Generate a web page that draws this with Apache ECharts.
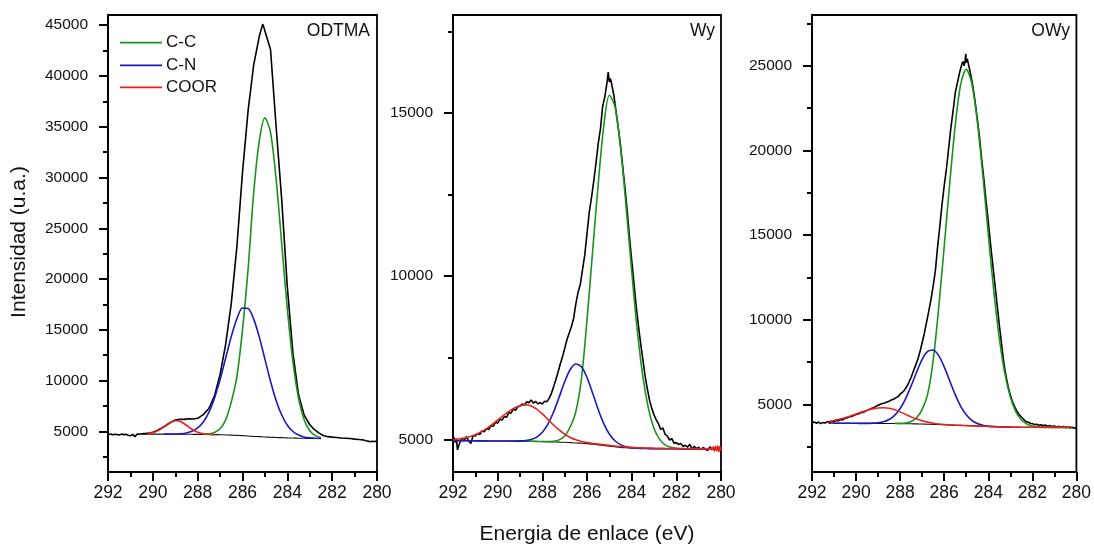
<!DOCTYPE html>
<html><head><meta charset="utf-8">
<script src="https://cdn.jsdelivr.net/npm/echarts@6/dist/echarts.min.js"></script>
<style>html,body{margin:0;padding:0;background:#fff}#c{width:1094px;height:544px}</style>
</head><body><div id="c"></div>
<script>
// ---------------- DATA ----------------
const panelTitles = ['ODTMA', 'Wy', 'OWy'];
const componentNames = ['C-C', 'C-N', 'COOR'];

const odtmaYTicks = [5000, 10000, 15000, 20000, 25000, 30000, 35000, 40000, 45000];
const odtmaYMinor = [2500, 7500, 12500, 17500, 22500, 27500, 32500, 37500, 42500];
const wyYTicks = [5000, 10000, 15000];
const wyYMinor = [7500, 12500, 17500];
const owyYTicks = [5000, 10000, 15000, 20000, 25000];
const owyYMinor = [2500, 7500, 12500, 17500, 22500, 27500];

// ---- ODTMA ----
const odtmaDataE = [292, 291.9, 291.8, 291.7, 291.6, 291.5, 291.4, 291.3, 291.2, 291.1, 291, 290.9, 290.8, 290.7, 290.6, 290.5, 290.4, 290.3, 290.2, 290.1, 290,
  289.8, 289.6, 289.4, 289.2, 289, 288.8, 288.6, 288.4, 288.2, 288,
  287.9, 287.75, 287.5, 287.25, 287, 286.75, 286.5, 286.25, 286, 285.75, 285.5, 285.25, 285.1, 285.05, 285,
  284.75, 284.5, 284.25, 284, 283.75, 283.5, 283.25, 283,
  282.8, 282.6, 282.4, 282.2, 282, 281.8, 281.6, 281.4, 281.2, 281, 280.8, 280.6,
  280.5, 280.4, 280.3, 280.2, 280.1, 280];
const odtmaData = [4690, 4740, 4660, 4720, 4700, 4640, 4730, 4680, 4710, 4620, 4560, 4700, 4480, 4740, 4720, 4760, 4780, 4800, 4830, 4870, 4920,
  5080, 5330, 5600, 5900, 6120, 6190, 6180, 6240, 6220, 6300,
  6420, 6650, 7250, 8500, 10600, 13600, 17600, 23200, 30500, 36600, 41100, 43900, 45100, 44800, 44900,
  42600, 35000, 27800, 19200, 12700, 8600, 6600, 5650,
  5200, 4850, 4600, 4480, 4430, 4400, 4350, 4330, 4300, 4240, 4200, 4150,
  4080, 4040, 3980, 4020, 4000, 4060];
const odtmaFitE = [290.5, 290.25, 290, 289.75, 289.5, 289.25, 289, 288.75, 288.5, 288.25, 288, 287.75, 287.5, 287.25, 287, 286.75, 286.5, 286.25, 286, 285.75, 285.5, 285.25, 285, 284.75, 284.5, 284.25, 284, 283.75, 283.5, 283.25, 283, 282.75, 282.5];
const odtmaBase = [4730, 4730, 4730, 4728, 4725, 4722, 4720, 4717, 4715, 4710, 4705, 4698, 4690, 4680, 4670, 4650, 4630, 4605, 4580, 4545, 4510, 4480, 4450, 4425, 4400, 4380, 4360, 4345, 4330, 4320, 4310, 4305, 4300];
const odtmaCC = [null, null, null, null, null, null, null, null, null, null, null,
  4718, 4756, 4890, 5264, 6128, 7910, 10400, 15000, 21000, 28510, 33630, 35870, 34435, 29810, 23460, 17060, 11835, 8260, 6140, 5055, 4578, 4388];
const odtmaCN = [null, null, null, null,
  4727, 4730, 4740, 4765, 4846, 5010, 5335, 5925, 6873, 8270, 10100, 12225, 14350, 16085, 17150, 17100, 16050, 14280, 12110, 9940, 8050, 6610, 5610, 4990, 4640, 4456, 4365, 4325, 4305];
const odtmaCOOR = [null, 4775, 4877, 5095, 5451, 5833, 6043, 5940, 5602, 5209, 4924, 4773, 4710, 4685,
  null, null, null, null, null, null, null, null, null, null, null, null, null, null, null, null, null, null, null];

// ---- Wy ----
const wyData = [[292,4980],[291.95,5060],[291.9,4900],[291.85,5020],[291.8,4680],[291.75,4620],[291.7,4900],[291.6,5000],[291.5,4960],[291.4,5080],[291.3,4950],[291.2,4870],[291.1,5120],[291,5100],[290.9,5180],[290.8,5150],[290.7,5260],[290.6,5230],[290.5,5330],[290.4,5300],[290.3,5420],[290.2,5400],[290.1,5520],[290,5500],[289.9,5620],[289.8,5590],[289.7,5700],[289.6,5680],[289.5,5820],[289.4,5800],[289.3,5930],[289.2,5890],[289.1,6000],[289,6020],[288.9,6080],[288.8,6050],[288.7,6150],[288.6,6120],[288.5,6210],[288.4,6110],[288.3,6160],[288.2,6090],[288.1,6120],[288,6080],[287.9,6170],[287.8,6150],[287.7,6250],[287.6,6400],[287.5,6600],[287.4,6820],[287.3,7050],[287.2,7300],[287.1,7520],[287,7780],[286.9,8050],[286.8,8250],[286.7,8450],[286.6,8700],[286.5,9150],[286.4,9500],[286.3,9750],[286.2,10200],[286.1,10650],[286,11300],[285.9,11950],[285.8,12400],[285.7,12900],[285.6,13450],[285.5,14050],[285.4,14500],[285.3,15200],[285.2,15500],[285.1,15950],[285.05,16250],[285,15950],[284.95,16050],[284.9,15900],[284.8,15550],[284.7,15050],[284.6,14550],[284.5,14000],[284.4,13350],[284.3,12700],[284.2,12000],[284.1,11200],[284,10500],[283.9,9800],[283.8,9100],[283.7,8500],[283.6,7950],[283.5,7450],[283.4,6950],[283.3,6550],[283.2,6200],[283.1,5950],[283,5750],[282.9,5600],[282.8,5480],[282.7,5300],[282.6,5350],[282.5,5150],[282.4,5100],[282.3,4980],[282.2,5020],[282.1,4880],[282,4900],[281.9,4840],[281.8,4870],[281.7,4780],[281.6,4820],[281.5,4760],[281.4,4850],[281.3,4700],[281.2,4790],[281.1,4720],[281,4760],[280.9,4680],[280.8,4750],[280.7,4700],[280.6,4660],[280.5,4770],[280.4,4700],[280.3,4720],[280.2,4680],[280.1,4740],[280,4700]];
const wyFitE = [292, 291.75, 291.5, 291.25, 291, 290.75, 290.5, 290.25, 290, 289.75, 289.5, 289.25, 289, 288.75, 288.5, 288.25, 288, 287.75, 287.5, 287.25, 287, 286.75, 286.5, 286.25, 286, 285.75, 285.5, 285.25, 285, 284.75, 284.5, 284.25, 284, 283.75, 283.5, 283.25, 283, 282.75, 282.5, 282.25, 282, 281.75, 281.5, 281.25, 281, 280.75, 280.5, 280.25, 280];
const wyBase = [4960, 4960, 4958, 4957, 4955, 4953, 4952, 4950, 4950, 4948, 4947, 4945, 4945, 4943, 4940, 4935, 4930, 4925, 4920, 4915, 4910, 4900, 4890, 4880, 4868, 4850, 4830, 4810, 4790, 4772, 4755, 4742, 4732, 4725, 4720, 4717, 4715, 4713, 4712, 4711, 4710, 4709, 4708, 4707, 4707, 4706, 4706, 4705, 4705];
const wyCC = [null, null, null, null, null, null, null, null, null, null, null, null,
  4945, 4943, 4941, 4937, 4933, 4931, 4940, 4985, 5105, 5385, 5850, 6850, 8660, 10750, 12800, 14600, 15540, 15200, 13955, 12142, 10160, 8355, 6930, 5950, 5330, 5000, 4832, 4757, 4725, 4715, 4710, 4708, 4707, 4706, 4706, 4705, 4705];
const wyCN = [4960, 4960, 4958, 4957, 4955, 4953, 4952, 4950, 4950, 4948,
  4948, 4947, 4952, 4962, 4993, 5068, 5216, 5465, 5830, 6288, 6763, 7140, 7310, 7222, 6895, 6419, 5917, 5484, 5164, 4958, 4838, 4775, 4744, 4730, 4722, 4718, 4715,
  4713, 4712, 4711, 4710, 4709, 4708, 4707, 4707, 4706, 4706, 4705, 4705];
const wyCOOR = [4987, 5010, 5038, 5085, 5143, 5230, 5330, 5455, 5589, 5728, 5856, 5962, 6030, 6060, 6025, 5925, 5780, 5612, 5441, 5287, 5159, 5056, 4985, 4935, 4900, 4875, 4855, 4835, 4815, 4797, 4780, 4765, 4755, 4745, 4738, 4733, 4728, 4724, 4721, 4718, 4716, 4714, 4712, 4711, 4710, 4709, 4708, null, null];
const wyCoorTailE = [280.45, 280.4, 280.35, 280.3, 280.25, 280.2, 280.15, 280.1, 280.05, 280];
const wyCoorTail = [4720, 4680, 4770, 4640, 4790, 4660, 4800, 4620, 4780, 4650];

// ---- OWy ----
const owyData = [[292,3900],[291.9,3960],[291.8,3880],[291.7,3950],[291.6,3860],[291.5,3930],[291.4,3890],[291.3,3980],[291.2,3920],[291.1,3990],[291,3960],[290.9,4050],[290.8,4020],[290.7,4100],[290.6,4080],[290.5,4180],[290.4,4200],[290.3,4260],[290.2,4280],[290.1,4350],[290,4400],[289.9,4430],[289.8,4500],[289.7,4520],[289.6,4580],[289.5,4640],[289.4,4700],[289.3,4760],[289.2,4800],[289.1,4880],[289,4940],[288.9,5000],[288.8,5050],[288.7,5080],[288.6,5130],[288.5,5180],[288.4,5250],[288.3,5300],[288.2,5380],[288.1,5450],[288,5600],[287.9,5700],[287.8,5850],[287.7,6050],[287.6,6300],[287.5,6600],[287.4,6950],[287.3,7300],[287.2,7650],[287.1,8100],[287,8650],[286.9,9200],[286.8,9850],[286.7,10500],[286.6,11200],[286.5,12000],[286.4,12900],[286.3,14300],[286.2,15500],[286.1,16800],[286,17900],[285.9,18900],[285.8,20100],[285.7,21300],[285.6,22300],[285.5,23400],[285.4,24000],[285.3,24600],[285.2,25100],[285.15,25250],[285.1,25000],[285.05,25300],[285.02,25700],[285,25200],[284.95,25400],[284.9,25100],[284.8,24500],[284.7,23800],[284.6,22900],[284.5,21900],[284.4,20800],[284.3,19500],[284.2,18300],[284.1,17000],[284,15800],[283.9,14500],[283.8,13300],[283.7,12100],[283.6,10900],[283.5,9700],[283.4,8600],[283.3,7500],[283.2,6700],[283.1,6050],[283,5550],[282.9,5150],[282.8,4850],[282.7,4600],[282.6,4400],[282.5,4250],[282.4,4120],[282.3,3990],[282.2,3950],[282.1,3880],[282,3860],[281.9,3800],[281.8,3820],[281.7,3760],[281.6,3790],[281.5,3740],[281.4,3770],[281.3,3700],[281.2,3740],[281.1,3690],[281,3720],[280.9,3660],[280.8,3700],[280.7,3640],[280.6,3690],[280.5,3620],[280.4,3660],[280.3,3600],[280.2,3640],[280.1,3580],[280,3620]];
const owyFitE = [291.25, 291, 290.75, 290.5, 290.25, 290, 289.75, 289.5, 289.25, 289, 288.75, 288.5, 288.25, 288, 287.75, 287.5, 287.25, 287, 286.75, 286.5, 286.25, 286, 285.75, 285.5, 285.25, 285, 284.75, 284.5, 284.25, 284, 283.75, 283.5, 283.25, 283, 282.75, 282.5, 282.25, 282, 281.75, 281.5, 281.25, 281, 280.75, 280.5, 280.25];
const owyBase = [3880, 3880, 3879, 3878, 3877, 3875, 3874, 3872, 3871, 3870, 3867, 3865, 3862, 3860, 3855, 3848, 3842, 3835, 3825, 3815, 3803, 3790, 3778, 3765, 3753, 3740, 3725, 3710, 3698, 3685, 3675, 3665, 3657, 3650, 3646, 3643, 3641, 3640, 3639, 3638, 3637, 3637, 3636, 3636, 3635];
const owyCC = [null, null, null, null, null, null, null, null, null, null, null, null,
  3870, 3875, 3900, 3980, 4200, 4700, 5600, 7600, 10700, 14320, 18048, 21465, 23912, 24790, 23975, 21750, 18578, 15045, 11695, 8910, 6837, 5430, 4571, 4086, 3840, 3721, 3668, 3648, 3640, 3637, 3636, 3636, 3635];
const owyCN = [null,
  3880, 3879, 3878, 3877, 3876, 3875, 3874, 3885, 3914, 3975, 4105, 4349, 4751, 5340, 6086, 6911, 7654, 8125, 8207, 7873, 7212, 6385, 5569, 4883, 4383, 4056, 3865, 3764, 3710, 3685, 3670, 3659, 3651,
  null, null, null, null, null, null, null, null, null, null, null];
const owyCOOR = [3975, 4045, 4117, 4206, 4311, 4425, 4540, 4646, 4729, 4784, 4798, 4762, 4675, 4552, 4405, 4257, 4131, 4029, 3946, 3885, 3840, 3810, 3788, 3770, 3755, 3743, 3730, 3717, 3705, 3693, 3682, 3672, 3663, 3656, 3651, 3647, 3644, 3642, 3640, 3639, 3638, 3637, 3637, 3636, 3636];

// ---------------- LAYOUT / STYLE ----------------
const FONT = "'Liberation Sans', Arial, Helvetica, sans-serif";
const COLORS = { data: '#000000', base: '#111111', cc: '#1a931a', cn: '#1a1ac0', coor: '#e8211b' };

function zip(E, V) {
  const out = [];
  for (let i = 0; i < E.length; i++) if (V[i] !== null && V[i] !== undefined) out.push([E[i], V[i]]);
  return out;
}

const panels = [
  { left: 108, width: 269, ymin: 1000, ymax: 46000, major: odtmaYTicks, minor: odtmaYMinor, titleX: 370,
    data: zip(odtmaDataE, odtmaData), base: zip(odtmaFitE, odtmaBase),
    cc: zip(odtmaFitE, odtmaCC), cn: zip(odtmaFitE, odtmaCN), coor: zip(odtmaFitE, odtmaCOOR) },
  { left: 453, width: 268, ymin: 4000, ymax: 18000, major: wyYTicks, minor: wyYMinor, titleX: 715,
    data: wyData, base: zip(wyFitE, wyBase),
    cc: zip(wyFitE, wyCC), cn: zip(wyFitE, wyCN), coor: zip(wyFitE, wyCOOR).concat(zip(wyCoorTailE, wyCoorTail)) },
  { left: 812, width: 267, ymin: 1000, ymax: 28000, major: owyYTicks, minor: owyYMinor, titleX: 1070,
    data: owyData, base: zip(owyFitE, owyBase),
    cc: zip(owyFitE, owyCC), cn: zip(owyFitE, owyCN), coor: zip(owyFitE, owyCOOR) }
];

const TOP = 15, HEIGHT = 457;
const axisLineStyle = { color: '#000', width: 2 };

const grid = panels.map(p => ({ left: p.left, top: TOP, width: p.width, height: HEIGHT, show: true,
  borderColor: '#000', borderWidth: 1.8, backgroundColor: 'transparent', containLabel: false }));

const xAxis = panels.map((p, i) => ({
  gridIndex: i, type: 'value', min: 280, max: 292, interval: 2, inverse: true,
  axisLine: { show: true, onZero: false, lineStyle: axisLineStyle },
  axisTick: { show: true, inside: false, length: 9, lineStyle: axisLineStyle },
  minorTick: { show: true, splitNumber: 2, length: 5, lineStyle: axisLineStyle },
  splitLine: { show: false }, minorSplitLine: { show: false },
  axisLabel: { show: true, color: '#111', fontSize: 17.5, fontFamily: FONT, margin: 12, showMinLabel: true, showMaxLabel: true,
    formatter: v => String(v) }
}));

const yAxis = [];
panels.forEach((p, i) => {
  yAxis.push({
    gridIndex: i, type: 'value', position: 'left', min: p.ymin, max: p.ymax,
    axisLine: { show: true, onZero: false, lineStyle: axisLineStyle },
    axisTick: { show: true, inside: false, length: 9, customValues: p.major, lineStyle: axisLineStyle },
    axisLabel: { show: true, customValues: p.major, color: '#111', fontSize: 15.5, fontFamily: FONT, margin: 20,
      formatter: v => String(v) },
    splitLine: { show: false }
  });
  yAxis.push({
    gridIndex: i, type: 'value', position: 'left', min: p.ymin, max: p.ymax,
    axisLine: { show: false },
    axisTick: { show: true, inside: false, length: 5, customValues: p.minor, lineStyle: axisLineStyle },
    axisLabel: { show: false },
    splitLine: { show: false }
  });
});

const series = [];
panels.forEach((p, i) => {
  const common = { type: 'line', xAxisIndex: i, yAxisIndex: 2 * i, symbol: 'none', showSymbol: false,
    silent: true, animation: false, clip: true };
  series.push(Object.assign({}, common, { name: panelTitles[i], data: p.data, lineStyle: { color: COLORS.data, width: 1.6 }, z: 2 }));
  series.push(Object.assign({}, common, { name: 'baseline', data: p.base, smooth: 0.3, lineStyle: { color: COLORS.base, width: 1.1 }, z: 3 }));
  series.push(Object.assign({}, common, { name: componentNames[0], data: p.cc, smooth: 0.3, lineStyle: { color: COLORS.cc, width: 1.6 }, z: 4 }));
  series.push(Object.assign({}, common, { name: componentNames[1], data: p.cn, smooth: 0.3, lineStyle: { color: COLORS.cn, width: 1.6 }, z: 5 }));
  series.push(Object.assign({}, common, { name: componentNames[2], data: p.coor, smooth: 0.3, lineStyle: { color: COLORS.coor, width: 1.6 }, z: 6 }));
});

function txt(x, y, text, size, align, valign, rot) {
  return { type: 'text', x: x, y: y, rotation: rot || 0, silent: true, z: 100,
    style: { text: text, fill: '#111', font: size + 'px ' + FONT,
      textAlign: align, align: align, textVerticalAlign: valign, verticalAlign: valign } };
}
const graphic = [];
panels.forEach((p, i) => graphic.push(txt(p.titleX, 31, panelTitles[i], 17.5, 'right', 'middle')));
const legendRows = [42.7, 65.3, 87.3];
const legendColors = [COLORS.cc, COLORS.cn, COLORS.coor];
componentNames.forEach((n, k) => {
  graphic.push({ type: 'line', silent: true, z: 100, shape: { x1: 120, y1: legendRows[k], x2: 162, y2: legendRows[k] },
    style: { stroke: legendColors[k], lineWidth: 1.8 } });
  graphic.push(txt(166, legendRows[k], n, 17, 'left', 'middle'));
});
graphic.push(txt(587, 534, 'Energia de enlace (eV)', 21, 'center', 'middle'));
graphic.push(txt(19, 242, 'Intensidad (u.a.)', 21, 'center', 'middle', Math.PI / 2));

const chart = echarts.init(document.getElementById('c'), null, { renderer: 'canvas' });
chart.setOption({ animation: false, backgroundColor: '#fff', grid, xAxis, yAxis, series, graphic });
</script></body></html>
